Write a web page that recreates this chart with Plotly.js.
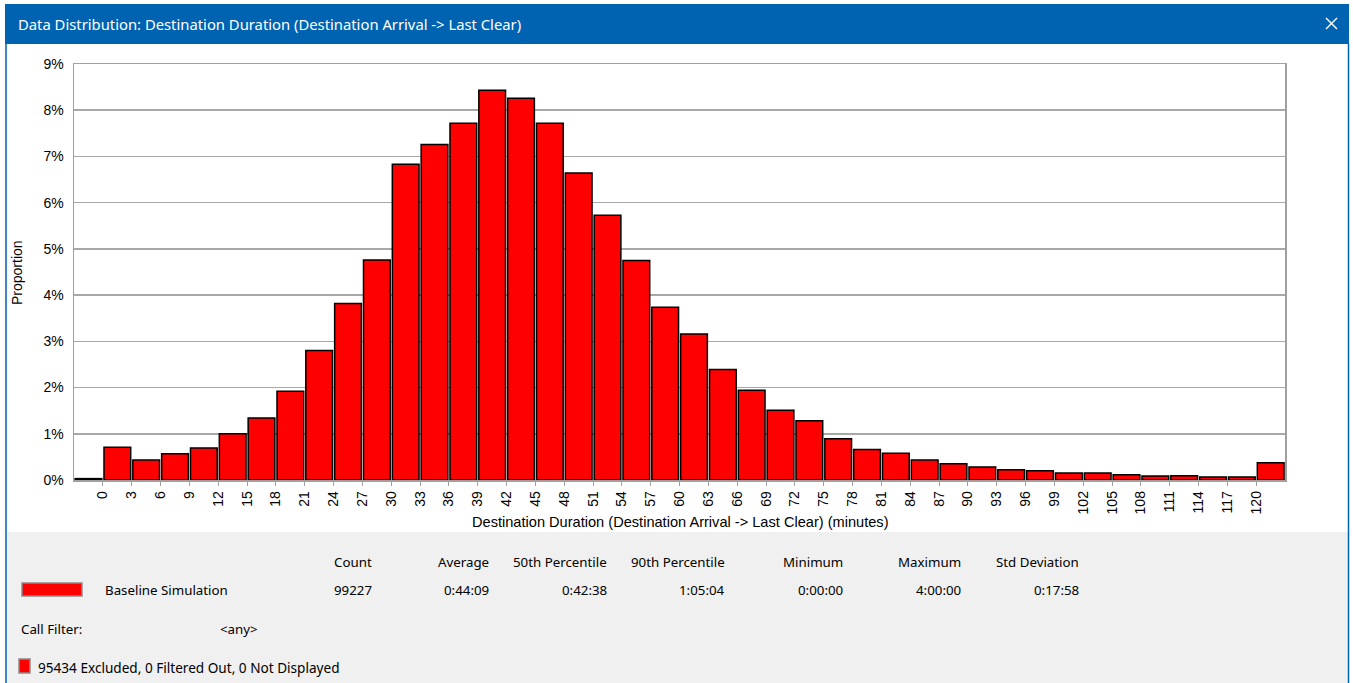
<!DOCTYPE html>
<html>
<head>
<meta charset="utf-8">
<script src="https://cdn.plot.ly/plotly-3.0.1.min.js"></script>
<style>
html,body{margin:0;padding:0;background:#ffffff;overflow:hidden;}
#chart{width:1353px;height:683px;}
</style>
</head>
<body>
<div id="chart"></div>
<script>
// ---- data ----
// bin start (minutes); -3 = underflow bin, 120 = overflow bin (>120)
const binStarts = [-3, 0, 3, 6, 9, 12, 15, 18, 21, 24, 27, 30, 33, 36, 39, 42, 45, 48, 51, 54, 57,
                   60, 63, 66, 69, 72, 75, 78, 81, 84, 87, 90, 93, 96, 99, 102, 105, 108, 111, 114, 117, 120];
// proportion (%) per bin
const proportions = [0.03, 0.71, 0.43, 0.57, 0.69, 1.00, 1.34, 1.92, 2.80, 3.82, 4.76, 6.83, 7.26, 7.72, 8.43, 8.26, 7.72, 6.64, 5.73, 4.75, 3.74,
                     3.16, 2.39, 1.94, 1.51, 1.28, 0.89, 0.66, 0.58, 0.43, 0.35, 0.28, 0.22, 0.20, 0.15, 0.15, 0.115, 0.087, 0.09, 0.065, 0.065, 0.375];
const tickValues = [0, 3, 6, 9, 12, 15, 18, 21, 24, 27, 30, 33, 36, 39, 42, 45, 48, 51, 54, 57, 60,
                    63, 66, 69, 72, 75, 78, 81, 84, 87, 90, 93, 96, 99, 102, 105, 108, 111, 114, 117, 120];
const yTicks = [0, 1, 2, 3, 4, 5, 6, 7, 8, 9];

const windowTitle = "Data Distribution: Destination Duration (Destination Arrival -> Last Clear)";
const xTitle = "Destination Duration (Destination Arrival -> Last Clear) (minutes)";
const yTitle = "Proportion";

const statHeaders = ["Count", "Average", "50th Percentile", "90th Percentile", "Minimum", "Maximum", "Std Deviation"];
const seriesName = "Baseline Simulation";
const statValues = ["99227", "0:44:09", "0:42:38", "1:05:04", "0:00:00", "4:00:00", "0:17:58"];
const filterLabel = "Call Filter:";
const filterValue = "<any>";
const excludedText = "95434 Excluded, 0 Filtered Out, 0 Not Displayed";

// ---- layout helpers (pixel -> paper) ----
const W = 1353, H = 683;
const L = 74, R = 1285, T = 64, B = 480;
const fx = p => (p - L) / (R - L);
const fy = p => (B - p) / (B - T);

const UI = "Noto Sans, Open Sans, sans-serif";
const CH = "Liberation Sans, Arial, sans-serif";
const blue = "#0063B1";
const chartFont = 14;
const uiFont = 13.3;

const trace = {
  type: "bar",
  x: binStarts,
  y: proportions,
  offset: 0.12,
  width: 2.78,
  marker: {color: "#FF0000", line: {color: "#000000", width: 1.5}},
  hoverinfo: "x+y"
};

const shapes = [
  // title bar
  {type: "rect", xref: "paper", yref: "paper", x0: fx(5), x1: fx(1349), y0: fy(4), y1: fy(44),
   fillcolor: blue, line: {width: 0}, layer: "below"},
  // bottom panel
  {type: "rect", xref: "paper", yref: "paper", x0: fx(7), x1: fx(1348), y0: fy(532), y1: fy(684),
   fillcolor: "#F0F0F0", line: {width: 0}, layer: "below"},
  // window borders
  {type: "line", xref: "paper", yref: "paper", x0: fx(6), x1: fx(6), y0: fy(44), y1: fy(684),
   line: {color: blue, width: 1.5}},
  {type: "line", xref: "paper", yref: "paper", x0: fx(1348.5), x1: fx(1348.5), y0: fy(44), y1: fy(684),
   line: {color: blue, width: 1.5}},
  // close "x"
  {type: "line", xref: "paper", yref: "paper", x0: fx(1326), x1: fx(1337), y0: fy(18), y1: fy(29),
   line: {color: "#FFFFFF", width: 1.4}},
  {type: "line", xref: "paper", yref: "paper", x0: fx(1326), x1: fx(1337), y0: fy(29), y1: fy(18),
   line: {color: "#FFFFFF", width: 1.4}},
  // legend swatch
  {type: "rect", xref: "paper", yref: "paper", x0: fx(22), x1: fx(82), y0: fy(583), y1: fy(596),
   fillcolor: "#FF0000", line: {color: "#8A8A8A", width: 1.5}},
  // excluded swatch
  {type: "rect", xref: "paper", yref: "paper", x0: fx(19), x1: fx(30), y0: fy(659), y1: fy(673),
   fillcolor: "#FF0000", line: {color: "#8A8A8A", width: 1.5}}
];

const colRight = [372, 489, 607, 725, 843, 961, 1079];
const annotations = [];
const ann = (text, x, y, xanchor, size, color, family) => annotations.push({
  text: text, xref: "paper", yref: "paper", x: fx(x), y: fy(y), xanchor: xanchor, yanchor: "middle",
  showarrow: false, font: {family: family || UI, size: size || uiFont, color: color || "#000000"}
});
ann(windowTitle, 16, 24, "left", 14.8, "#FFFFFF");
statHeaders.forEach((h, i) => ann(h, colRight[i] + 2, 562, "right"));
statValues.forEach((v, i) => ann(v, colRight[i] + 2, 590, "right"));
ann(seriesName, 103, 590, "left");
ann(filterLabel, 19, 629, "left");
ann(filterValue, 218, 629, "left");
ann(excludedText, 36, 667, "left", 13.6);
// axis titles
ann(xTitle, 680, 522, "center", 14.6, "#000000", CH);
annotations.push({text: yTitle, xref: "paper", yref: "paper", x: fx(17), y: fy(273), xanchor: "center",
  yanchor: "middle", textangle: -90, showarrow: false, font: {family: CH, size: chartFont, color: "#000000"}});

const layout = {
  width: W, height: H,
  margin: {l: L, r: W - R, t: T, b: H - B, pad: 0},
  paper_bgcolor: "#FFFFFF",
  plot_bgcolor: "#FFFFFF",
  showlegend: false,
  bargap: 0,
  xaxis: {
    range: [-3, 123], tickmode: "array", tickvals: tickValues, ticktext: tickValues.map(String),
    tickangle: -90, ticks: "outside", ticklen: 4, tickcolor: "#A0A0A0",
    tickfont: {family: CH, size: chartFont, color: "#000000"},
    showgrid: false, zeroline: false, showline: true, linecolor: "#A0A0A0", linewidth: 1.5, mirror: true,
    fixedrange: true
  },
  yaxis: {
    range: [0, 9], tickmode: "array", tickvals: yTicks, ticktext: yTicks.map(v => v + "%"),
    ticks: "", tickfont: {family: CH, size: chartFont, color: "#000000"},
    showgrid: true, gridcolor: "#A8A8A8", gridwidth: 1.5, zeroline: false,
    showline: true, linecolor: "#A0A0A0", linewidth: 1.5, mirror: true, ticklabelstandoff: 6,
    fixedrange: true
  },
  shapes: shapes,
  annotations: annotations
};

Plotly.newPlot("chart", [trace], layout, {displayModeBar: false, staticPlot: true});
</script>
</body>
</html>
